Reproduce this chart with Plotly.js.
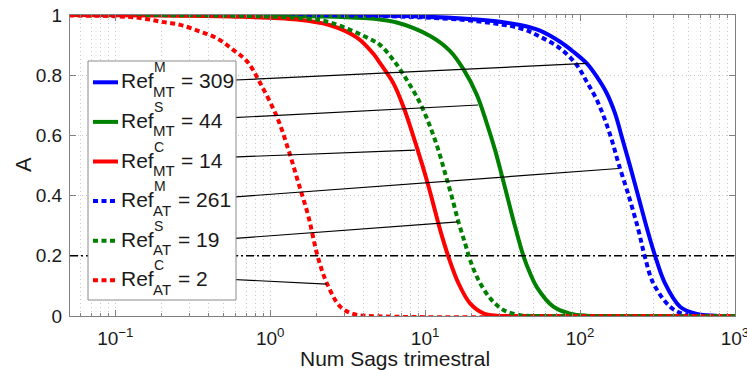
<!DOCTYPE html>
<html><head><meta charset="utf-8">
<script src="https://cdn.plot.ly/plotly-3.0.1.min.js"></script>
<style>html,body{margin:0;padding:0;background:#fff}#chart{width:747px;height:370px}</style>
</head><body><div id="chart"></div>
<script>
// ---------- data ----------
const seriesSup = ['M', 'S', 'C', 'M', 'S', 'C'];
const seriesSub = ['MT', 'MT', 'MT', 'AT', 'AT', 'AT'];
const refValues = [309, 44, 14, 261, 19, 2];

const xMT_M = [0.05, 6.9, 22.6, 41.0, 55.2, 74.3, 90.5, 110.5, 128.2, 148.7, 168.2, 185.8, 208, 238, 272, 305, 353, 442, 566, 750, 1000];
const aMT_M = [1.0, 0.997, 0.984, 0.967, 0.948, 0.911, 0.878, 0.839, 0.795, 0.74, 0.673, 0.596, 0.507, 0.396, 0.286, 0.2, 0.109, 0.031, 0.007, 0.001, 0];

const xMT_S = [0.05, 3.98, 6.57, 10.77, 14.5, 17.66, 21.56, 25.0, 28.29, 31.26, 34.46, 38.07, 43.07, 47.57, 52.56, 67.27, 86.1, 110, 1000];
const aMT_S = [1.0, 0.99, 0.975, 0.93, 0.88, 0.82, 0.735, 0.64, 0.551, 0.467, 0.383, 0.297, 0.2, 0.142, 0.096, 0.031, 0.008, 0.001, 0];

const xMT_C = [0.05, 0.552, 1.487, 2.44, 3.63, 4.62, 5.13, 6.245, 7.245, 8.405, 9.52, 10.5, 11.31, 12.5, 14.13, 16.4, 19.5, 23.78, 29.0, 40, 1000];
const aMT_C = [1.0, 0.995, 0.985, 0.966, 0.925, 0.872, 0.839, 0.773, 0.695, 0.596, 0.507, 0.432, 0.37, 0.286, 0.197, 0.109, 0.042, 0.009, 0.001, 0, 0];

const xAT_M = [0.05, 6.9, 22.6, 41.0, 55.2, 74.3, 95.2, 110.5, 128.2, 145, 160.2, 177, 207, 238, 262, 297, 381, 464, 600, 1000];
const aAT_M = [1.0, 0.995, 0.978, 0.956, 0.928, 0.889, 0.834, 0.778, 0.718, 0.651, 0.585, 0.507, 0.396, 0.286, 0.197, 0.109, 0.031, 0.007, 0.001, 0];

const xAT_S = [0.05, 1.56, 2.44, 4.42, 5.13, 6.245, 7.62, 9.28, 10.77, 12.18, 13.46, 14.87, 16.4, 18.11, 19.5, 22.07, 26.27, 32.0, 41.0, 55, 1000];
const aAT_S = [1.0, 0.99, 0.975, 0.92, 0.9, 0.85, 0.784, 0.707, 0.629, 0.551, 0.474, 0.396, 0.313, 0.241, 0.186, 0.12, 0.059, 0.02, 0.003, 0, 0];

const xAT_C = [0.05, 0.1, 0.145, 0.195, 0.263, 0.353, 0.455, 0.577, 0.711, 0.861, 1.104, 1.313, 1.523, 1.766, 2.02, 2.32, 2.83, 3.43, 4.42, 1000];
const aAT_C = [0.998, 0.996, 0.99, 0.978, 0.967, 0.945, 0.922, 0.884, 0.845, 0.774, 0.662, 0.551, 0.441, 0.33, 0.2, 0.109, 0.031, 0.007, 0, 0];

const threshold = 0.2;

// leader lines from legend entries to the curves (data coordinates)
const leaderX0 = [0.594, 0.536, 0.569, 0.569, 0.536, 0.497];
const leaderY0 = [0.784, 0.658, 0.528, 0.395, 0.256, 0.123];
const leaderX1 = [110.5, 22.0, 8.6, 177, 16.3, 2.32];
const leaderY1 = [0.839, 0.701, 0.551, 0.49, 0.313, 0.106];

const tickVals = [0.1, 1, 10, 100, 1000];
const tickText = ['10<sup>\u22121</sup>', '10<sup>0</sup>', '10<sup>1</sup>', '10<sup>2</sup>', '10<sup>3</sup>'];
const xTitle = 'Num Sags trimestral';
const yTitle = 'A';

// ---------- styling ----------
const seriesX = [xMT_M, xMT_S, xMT_C, xAT_M, xAT_S, xAT_C];
const seriesA = [aMT_M, aMT_S, aMT_C, aAT_M, aAT_S, aAT_C];
const colors = ['#0000ff', '#008000', '#ff0000', '#0000ff', '#008000', '#ff0000'];
const dashes = ['solid', 'solid', 'solid', '5px,3.5px', '5px,3.5px', '5px,3.5px'];
const FONT = 'Liberation Sans, Arial, Helvetica, sans-serif';
const TXT = '#1a1a1a';
const L = 70, R = 735, T = 15, B = 316;
const px2x = p => (p - L) / (R - L);
const py2y = p => (B - p) / (B - T);

const traces = [];
for (let i = 0; i < 6; i++) {
  traces.push({
    x: seriesX[i], y: seriesA[i], type: 'scatter', mode: 'lines',
    line: {color: colors[i], width: 4, dash: dashes[i], shape: 'spline', smoothing: 1},
    hoverinfo: 'skip', showlegend: false
  });
}
for (let i = 0; i < 6; i++) {
  traces.push({
    x: [leaderX0[i], leaderX1[i]], y: [leaderY0[i], leaderY1[i]], type: 'scatter', mode: 'lines',
    line: {color: '#000', width: 1.2}, hoverinfo: 'skip', showlegend: false
  });
}

// minor ticks 2..9 per decade
const minorVals = [];
for (let d = -2; d < 3; d++) for (let k = 2; k <= 9; k++) minorVals.push(k * Math.pow(10, d));

const shapes = [
  {type: 'line', xref: 'paper', yref: 'y', x0: 0, x1: 1, y0: threshold, y1: threshold,
   line: {color: '#000', width: 1.6, dash: '8px,3px,2px,3px'}},
  {type: 'rect', xref: 'paper', yref: 'paper', x0: px2x(88), x1: px2x(236), y0: py2y(300), y1: py2y(61),
   fillcolor: '#fff', line: {color: '#8a8a8a', width: 1}}
];
const annotations = [];
for (let i = 0; i < 6; i++) {
  const yc = 82.3 + i * 39.6;
  shapes.push({type: 'line', xref: 'paper', yref: 'paper', x0: px2x(93), x1: px2x(118), y0: py2y(yc), y1: py2y(yc),
    line: {color: colors[i], width: 4, dash: dashes[i]}});
  annotations.push({xref: 'paper', yref: 'paper', x: px2x(119), y: py2y(yc - 1.5), xanchor: 'left', yanchor: 'middle',
    text: 'Ref', showarrow: false, font: {family: FONT, size: 21, color: TXT}});
  annotations.push({xref: 'paper', yref: 'paper', x: px2x(152), y: py2y(yc - 15), xanchor: 'left', yanchor: 'middle',
    text: seriesSup[i], showarrow: false, font: {family: FONT, size: 14, color: TXT}});
  annotations.push({xref: 'paper', yref: 'paper', x: px2x(151), y: py2y(yc + 9), xanchor: 'left', yanchor: 'middle',
    text: seriesSub[i], showarrow: false, font: {family: FONT, size: 15, color: TXT}});
  annotations.push({xref: 'paper', yref: 'paper', x: px2x(seriesSub[i] === 'MT' ? 179 : 176), y: py2y(yc - 1.5), xanchor: 'left', yanchor: 'middle',
    text: '= ' + refValues[i], showarrow: false, font: {family: FONT, size: 21, color: TXT}});
}
annotations.push({xref: 'paper', yref: 'paper', x: px2x(395), y: py2y(358), xanchor: 'center', yanchor: 'middle',
  text: xTitle, showarrow: false, font: {family: FONT, size: 21, color: TXT}});
annotations.push({xref: 'paper', yref: 'paper', x: px2x(23), y: py2y(165), xanchor: 'center', yanchor: 'middle',
  text: yTitle, textangle: -90, showarrow: false, font: {family: FONT, size: 22, color: TXT}});

const gridCol = '#c8c8c8';
const layout = {
  width: 747, height: 370,
  margin: {l: L, r: 747 - R, t: T, b: 370 - B},
  paper_bgcolor: '#fff', plot_bgcolor: '#fff',
  font: {family: FONT, color: TXT},
  showlegend: false,
  xaxis: {
    type: 'log', range: [Math.log10(0.051), 3.0002],
    tickmode: 'array', tickvals: tickVals, ticktext: tickText,
    tickfont: {family: FONT, size: 19, color: TXT},
    ticks: 'inside', ticklen: 6, tickcolor: '#808080', ticklabelstandoff: 5,
    ticklabeloverflow: 'allow',
    showline: true, linecolor: '#808080', linewidth: 1, mirror: 'ticks',
    showgrid: true, gridcolor: gridCol, griddash: '1px,3px', gridwidth: 1,
    zeroline: false,
    minor: {tickmode: 'array', tickvals: minorVals, ticks: 'inside', ticklen: 3, tickcolor: '#808080',
            showgrid: true, gridcolor: gridCol, griddash: '1px,3px', gridwidth: 1}
  },
  yaxis: {
    range: [0, 1], tickmode: 'array', tickvals: [0, 0.2, 0.4, 0.6, 0.8, 1], ticktext: ['0', '0.2', '0.4', '0.6', '0.8', '1'],
    tickfont: {family: FONT, size: 19, color: TXT},
    ticks: 'inside', ticklen: 6, tickcolor: '#808080', ticklabelstandoff: 3,
    showline: true, linecolor: '#808080', linewidth: 1, mirror: 'ticks',
    showgrid: true, gridcolor: gridCol, griddash: '1px,3px', gridwidth: 1,
    zeroline: false
  },
  shapes: shapes,
  annotations: annotations
};
Plotly.newPlot('chart', traces, layout, {staticPlot: true, displayModeBar: false});
</script></body></html>
